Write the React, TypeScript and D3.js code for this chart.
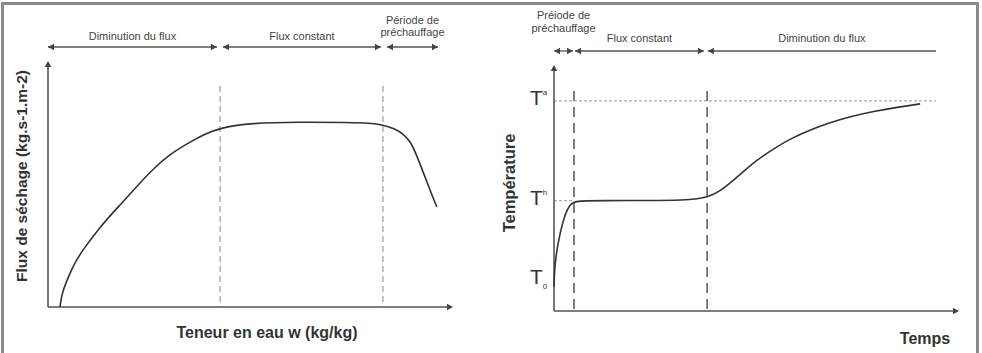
import React from "react";
import * as d3 from "d3";

// ---- Data (arbitrary units, 0-100 on each axis) ----
// Left chart: drying flux vs water content
const fluxX = [2.96, 3.3, 3.9, 4.7, 6.7, 8.6, 12.8, 17.8, 22.7, 25.7, 30.1, 35.1, 38.8, 42.5, 49.9, 62.2, 74.6, 79.5, 82.7, 85.7, 87.7, 89.4, 90.8, 92.6, 94.3, 96.0];
const fluxY = [0, 4.0, 7.5, 11.0, 18.3, 23.2, 32.5, 41.5, 50.4, 55.7, 62.2, 67.1, 70.3, 72.8, 74.8, 75.2, 75.0, 74.8, 74.0, 72.4, 70.3, 67.5, 62.6, 55.0, 47.6, 40.7];
const fluxBoundaries = [42.5, 82.7];
const fluxPhases = [
  { label: ["Diminution du flux"], from: 0, to: 41.7, headEnd: true },
  { label: ["Flux constant"], from: 43.2, to: 82.2, headEnd: true },
  { label: ["Période de", "préchauffage"], from: 83.7, to: 96.3, headEnd: true },
];

// Right chart: temperature vs time
const tempX = [0, 0.1, 0.5, 1.2, 2.7, 3.95, 5.2, 11.4, 23.7, 32.0, 35.5, 37.8, 41.0, 44.2, 47.2, 50.1, 54.6, 58.3, 63.2, 68.2, 73.1, 78.8, 85.4, 90.4];
const tempY = [9.8, 16.0, 22.5, 29.5, 39.5, 43.3, 44.8, 44.9, 44.9, 45.1, 45.6, 46.3, 48.6, 53.0, 57.3, 61.4, 66.3, 70.0, 73.6, 76.6, 79.0, 81.1, 83.0, 84.2];
const tempBoundaries = [4.94, 37.8];
const tempLevels = [
  { name: "T", mark: "a", kind: "sup", value: 85.4, lineTo: 94.3 },
  { name: "T", mark: "h", kind: "sup", value: 44.9, lineTo: 4.94 },
  { name: "T", mark: "0", kind: "sub", value: 12.5, lineTo: 0 },
];
const tempPhases = [
  { label: ["Préiode de", "préchauffage"], from: 0, to: 4.7, headEnd: true },
  { label: ["Flux constant"], from: 5.2, to: 37.0, headEnd: true },
  { label: ["Diminution du flux"], from: 38.0, to: 94.3, headEnd: false },
];

const FONT = "'Liberation Sans', Arial, sans-serif";

function Arrowhead({ x, y, dir, size = 6, color = "#444" }: { x: number; y: number; dir: "left" | "right" | "up"; size?: number; color?: string }) {
  let pts = "";
  const h = size * 0.55;
  if (dir === "right") pts = `${x},${y} ${x - size},${y - h} ${x - size},${y + h}`;
  if (dir === "left") pts = `${x},${y} ${x + size},${y - h} ${x + size},${y + h}`;
  if (dir === "up") pts = `${x},${y} ${x - h},${y + size} ${x + h},${y + size}`;
  return <polygon points={pts} fill={color} />;
}

export default function App() {
  // Left chart scales
  const xL = d3.scaleLinear().domain([0, 100]).range([48, 453]);
  const yL = d3.scaleLinear().domain([0, 100]).range([307, 61]);
  // Right chart scales
  const xR = d3.scaleLinear().domain([0, 100]).range([554, 959]);
  const yR = d3.scaleLinear().domain([0, 100]).range([311, 65]);

  const lineL = d3
    .line<number>()
    .x((_, i) => xL(fluxX[i]))
    .y((d) => yL(d))
    .curve(d3.curveBasis);
  const lineR = d3
    .line<number>()
    .x((_, i) => xR(tempX[i]))
    .y((d) => yR(d))
    .curve(d3.curveBasis);

  const phaseArrows = (
    phases: typeof fluxPhases,
    x: d3.ScaleLinear<number, number>,
    yArrow: number,
    labelBase: number,
    twoLineBase: number[]
  ) =>
    phases.map((p, i) => {
      const x0 = x(p.from);
      const x1 = x(p.to);
      const cx = (x0 + x1) / 2;
      return (
        <g key={i}>
          <line x1={x0} x2={x1} y1={yArrow} y2={yArrow} stroke="#555" strokeWidth={1.3} />
          <Arrowhead x={x0} y={yArrow} dir="left" />
          {p.headEnd && <Arrowhead x={x1} y={yArrow} dir="right" />}
          {p.label.length === 1 ? (
            <text x={cx} y={labelBase} textAnchor="middle" fontSize={11} fill="#444" fontFamily={FONT}>
              {p.label[0]}
            </text>
          ) : (
            p.label.map((t, j) => (
              <text key={j} x={cx} y={twoLineBase[j]} textAnchor="middle" fontSize={11} fill="#444" fontFamily={FONT}>
                {t}
              </text>
            ))
          )}
        </g>
      );
    });

  return (
    <svg width={982} height={353} style={{ position: "absolute", left: 0, top: 0, background: "#fff" }}>
      <rect x={2.5} y={3.5} width={975} height={370} fill="none" stroke="#8a8a8a" strokeWidth={3} />

      {/* ---------- Left chart ---------- */}
      {fluxBoundaries.map((b, i) => (
        <line key={i} x1={xL(b)} x2={xL(b)} y1={86} y2={yL(0)} stroke="#9a9a9a" strokeWidth={1.2} strokeDasharray="6 4" />
      ))}
      <line x1={xL(0)} x2={xL(0)} y1={yL(0)} y2={yL(100) + 5} stroke="#555" strokeWidth={1.6} />
      <Arrowhead x={xL(0)} y={yL(100)} dir="up" color="#444" />
      <line x1={xL(0)} x2={xL(100) - 5} y1={yL(0)} y2={yL(0)} stroke="#555" strokeWidth={1.6} />
      <Arrowhead x={xL(100)} y={yL(0)} dir="right" color="#444" />
      <path d={lineL(fluxY) ?? ""} fill="none" stroke="#333" strokeWidth={1.6} />
      {phaseArrows(fluxPhases, xL, 47, 40, [24, 36])}
      <text
        transform={`translate(27,176) rotate(-90)`}
        textAnchor="middle"
        fontSize={15.5}
        fontWeight="bold"
        fill="#333"
        fontFamily={FONT}
      >
        Flux de séchage (kg.s-1.m-2)
      </text>
      <text x={267} y={338} textAnchor="middle" fontSize={16} fontWeight="bold" fill="#333" fontFamily={FONT}>
        Teneur en eau w (kg/kg)
      </text>

      {/* ---------- Right chart ---------- */}
      {tempLevels
        .filter((l) => l.lineTo > 0)
        .map((l, i) => (
          <line key={i} x1={xR(0)} x2={xR(l.lineTo)} y1={yR(l.value)} y2={yR(l.value)} stroke="#aaa" strokeWidth={1.2} strokeDasharray="3 2" />
        ))}
      {tempBoundaries.map((b, i) => (
        <line key={i} x1={xR(b)} x2={xR(b)} y1={91} y2={yR(0)} stroke="#555" strokeWidth={1.5} strokeDasharray="10 6" />
      ))}
      <line x1={xR(0)} x2={xR(0)} y1={yR(0)} y2={yR(100) + 5} stroke="#555" strokeWidth={1.6} />
      <Arrowhead x={xR(0)} y={yR(100)} dir="up" color="#444" />
      <line x1={xR(0)} x2={xR(100) - 5} y1={yR(0)} y2={yR(0)} stroke="#555" strokeWidth={1.6} />
      <Arrowhead x={xR(100)} y={yR(0)} dir="right" color="#444" />
      <path d={lineR(tempY) ?? ""} fill="none" stroke="#333" strokeWidth={1.6} />
      {phaseArrows(tempPhases, xR, 51, 42, [19, 32])}
      {tempLevels.map((l, i) => (
        <text key={i} x={530} y={yR(l.value) + 4} fontSize={21} fill="#333" fontFamily={FONT}>
          {l.name}
          <tspan fontSize={8} dy={l.kind === "sup" ? -10 : 5}>
            {l.mark}
          </tspan>
        </text>
      ))}
      <text
        transform={`translate(515,183) rotate(-90)`}
        textAnchor="middle"
        fontSize={16.5}
        fontWeight="bold"
        fill="#333"
        fontFamily={FONT}
      >
        Température
      </text>
      <text x={925} y={344} textAnchor="middle" fontSize={16} fontWeight="bold" fill="#333" fontFamily={FONT}>
        Temps
      </text>
    </svg>
  );
}
